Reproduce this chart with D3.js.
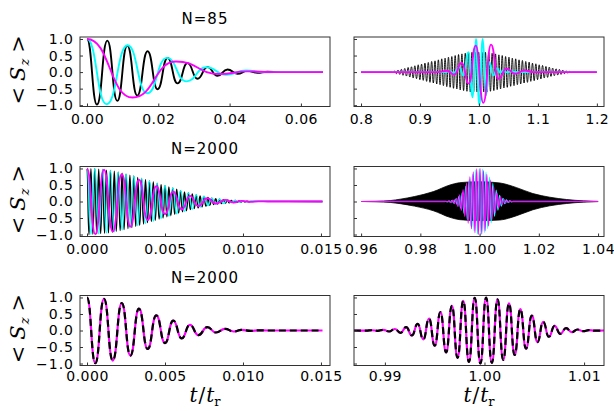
<!DOCTYPE html>
<html><head><meta charset="utf-8">
<script src="https://cdn.jsdelivr.net/npm/d3@7"></script>
<style>body{margin:0;background:#fff}svg{display:block}</style>
</head><body>
<svg id="c" width="614" height="411"></svg>
<script>
// ================= DATA =================
const titles = ["N=85", "N=2000", "N=2000"];
const yTicks = [-1, -0.5, 0, 0.5, 1];
const yTickLabels = ["\u22121.0", "\u22120.5", "0.0", "0.5", "1.0"];
const xTicksEarlyN85 = [0, 0.02, 0.04, 0.06];
const xTickLabelsEarlyN85 = ["0.00", "0.02", "0.04", "0.06"];
const xTicksRevivalN85 = [0.8, 0.9, 1.0, 1.1, 1.2];
const xTickLabelsRevivalN85 = ["0.8", "0.9", "1.0", "1.1", "1.2"];
const xTicksEarlyN2000 = [0, 0.005, 0.01, 0.015];
const xTickLabelsEarlyN2000 = ["0.000", "0.005", "0.010", "0.015"];
const xTicksRevivalN2000 = [0.96, 0.98, 1.0, 1.02, 1.04];
const xTickLabelsRevivalN2000 = ["0.96", "0.98", "1.00", "1.02", "1.04"];
const xTicksZoomN2000 = [0.99, 1.0, 1.01];
const xTickLabelsZoomN2000 = ["0.99", "1.00", "1.01"];

// data ranges (t / t_r)
const n85EarlyRange = [0, 0.0662];
const n85RevivalRange = [0.8, 1.2];
const n2000EarlyRange = [0, 0.0151];
const n2000RevivalRange = [0.96, 1.04];
const n2000ZoomRange = [0.9869, 1.012];

// N=85, early times: extrema [t, <Sz>]
const n85BlackEarly = [[0,1],[0.0028,-0.98],[0.0057,0.95],[0.0085,-0.87],[0.0113,0.80],[0.0141,-0.71],[0.0170,0.63],[0.0198,-0.52],[0.0226,0.43],[0.0254,-0.34],[0.0282,0.27],[0.0310,-0.20],[0.0338,0.15],[0.0366,-0.11],[0.0394,0.08],[0.0422,-0.05],[0.0450,0.035],[0.0478,-0.02],[0.0506,0.012],[0.054,0],[0.0662,0]];
const n85CyanEarly = [[0,1],[0.0055,-0.97],[0.0114,0.81],[0.0169,-0.64],[0.0224,0.43],[0.0279,-0.28],[0.0335,0.15],[0.0390,-0.08],[0.0446,0.05],[0.0500,-0.01],[0.0550,0.005],[0.0662,0]];
const n85MagentaEarly = [[0,1],[0.0128,-0.77],[0.0250,0.32],[0.0372,-0.06],[0.0450,0.02],[0.052,0],[0.0662,0]];

// N=85, revival: black is a fast oscillation, extrema every step from start
const n85BlackRevivalStart = 0.84, n85BlackRevivalStep = 0.00285;
const n85BlackRevival = [0,0,0,0,0.006,-0.02,0.03,-0.05,0.06,-0.07,0.085,-0.10,0.11,-0.12,0.14,-0.15,0.16,-0.18,0.19,-0.20,0.22,-0.23,0.24,-0.25,0.27,-0.28,0.29,-0.31,0.32,-0.33,0.34,-0.36,0.37,-0.38,0.40,-0.41,0.42,-0.44,0.45,-0.46,0.47,-0.49,0.50,-0.51,0.53,-0.54,0.55,-0.56,0.57,-0.58,0.59,-0.60,0.60,-0.60,0.60,-0.60,0.60,-0.60,0.60,-0.60,0.60,-0.60,0.59,-0.58,0.57,-0.56,0.55,-0.53,0.52,-0.51,0.50,-0.48,0.47,-0.46,0.45,-0.43,0.42,-0.41,0.40,-0.38,0.37,-0.36,0.35,-0.33,0.32,-0.31,0.30,-0.28,0.27,-0.26,0.25,-0.23,0.22,-0.21,0.20,-0.18,0.17,-0.16,0.15,-0.13,0.12,-0.11,0.10,-0.09,0.08,-0.07,0.06,-0.05,0.04,-0.03,0.02,-0.01,0];
const n85CyanRevival = [[0.94,0],[0.951,0.02],[0.957,-0.03],[0.9667,0.15],[0.9736,-0.10],[0.982,0.60],[0.9894,-0.76],[0.995,1.0],[1.0007,-1.0],[1.0064,1.0],[1.012,-0.70],[1.0177,0.30],[1.0244,-0.10],[1.0312,0.12],[1.036,-0.02],[1.041,0.05],[1.047,-0.01],[1.055,0.02],[1.065,0]];
const n85MagentaRevival = [[0.93,0],[0.946,0.04],[0.958,-0.08],[0.9708,0.28],[0.9827,-0.35],[0.9945,0.80],[1.0075,-0.93],[1.0205,0.83],[1.0329,-0.20],[1.047,0.10],[1.061,-0.05],[1.078,0.05],[1.092,0]];

// N=2000, early times
const n2000BlackEarlyStart = 0, n2000BlackEarlyStep = 0.000125;
const n2000BlackEarly = [1.0,-1.0,0.99,-0.99,0.99,-0.98,0.98,-0.97,0.97,-0.96,0.95,-0.95,0.94,-0.93,0.92,-0.90,0.89,-0.88,0.86,-0.85,0.83,-0.82,0.80,-0.79,0.77,-0.75,0.73,-0.72,0.70,-0.68,0.66,-0.64,0.62,-0.60,0.59,-0.57,0.55,-0.53,0.51,-0.50,0.48,-0.46,0.44,-0.43,0.41,-0.39,0.37,-0.35,0.33,-0.31,0.29,-0.28,0.26,-0.24,0.23,-0.21,0.20,-0.19,0.17,-0.16,0.15,-0.14,0.12,-0.11,0.10,-0.09,0.085,-0.08,0.07,-0.06,0.055,-0.05,0.045,-0.04,0.035,-0.03,0.03,-0.025,0.02,-0.018,0.015,-0.012,0.01,-0.008,0.005];
const n2000CyanEarlyStart = 0, n2000CyanEarlyStep = 0.00025;
const n2000CyanEarly = [1.0,-0.99,0.99,-0.98,0.97,-0.95,0.94,-0.92,0.89,-0.86,0.83,-0.80,0.77,-0.73,0.70,-0.66,0.62,-0.59,0.55,-0.51,0.48,-0.44,0.41,-0.37,0.33,-0.30,0.26,-0.23,0.20,-0.17,0.15,-0.12,0.10,-0.085,0.07,-0.055,0.045,-0.035,0.03,-0.02,0.015,-0.01,0.008];
const n2000MagentaEarly = [[0,1],[0.00053,-0.99],[0.00109,0.96],[0.00165,-0.91],[0.00223,0.83],[0.00278,-0.76],[0.00333,0.66],[0.00389,-0.56],[0.00444,0.46],[0.0050,-0.38],[0.00553,0.30],[0.00607,-0.24],[0.0066,0.17],[0.00714,-0.14],[0.00771,0.10],[0.00827,-0.06],[0.00885,0.05],[0.0094,-0.03],[0.0099,0.02],[0.0105,-0.01],[0.0110,0.005],[0.0116,0],[0.0151,0]];

// N=2000, revival
const n2000BlackRevivalUpper = [[0.96,0],[0.965,0.008],[0.97,0.03],[0.9732,0.07],[0.978,0.15],[0.9844,0.30],[0.99,0.50],[0.9933,0.57],[1.0,0.60],[1.0069,0.56],[1.0125,0.42],[1.018,0.24],[1.0237,0.13],[1.0294,0.06],[1.035,0.02],[1.04,0.003]];
const n2000BlackRevivalLower = [[0.96,0],[0.965,-0.008],[0.97,-0.03],[0.9732,-0.065],[0.978,-0.14],[0.9844,-0.28],[0.99,-0.48],[0.9933,-0.55],[1.0,-0.58],[1.0069,-0.56],[1.0125,-0.43],[1.018,-0.25],[1.0237,-0.13],[1.0294,-0.06],[1.035,-0.02],[1.04,-0.003]];
const n2000CyanRevivalStart = 0.98842, n2000CyanRevivalStep = 0.000573;
const n2000CyanRevival = [0.005,-0.008,0.01,-0.02,0.03,-0.045,0.07,-0.10,0.15,-0.20,0.27,-0.36,0.46,-0.56,0.66,-0.75,0.83,-0.90,0.95,-0.99,1.0,-1.0,0.98,-0.94,0.89,-0.82,0.74,-0.65,0.55,-0.45,0.35,-0.26,0.19,-0.14,0.10,-0.07,0.05,-0.03,0.02,-0.01,0.005];
const n2000MagentaRevival = [[0.98813,-0.005],[0.98870,0.008],[0.98928,-0.01],[0.98985,0.02],[0.99042,-0.03],[0.99100,0.045],[0.99157,-0.07],[0.99214,0.10],[0.99271,-0.15],[0.99329,0.20],[0.99386,-0.27],[0.99443,0.36],[0.99501,-0.46],[0.99558,0.56],[0.99615,-0.66],[0.99673,0.75],[0.99730,-0.83],[0.99787,0.90],[0.99844,-0.95],[0.99902,0.99],[0.99959,-1.0],[1.00016,1.0],[1.00074,-0.98],[1.00131,0.94],[1.00188,-0.89],[1.00246,0.82],[1.00303,-0.74],[1.00360,0.65],[1.00417,-0.55],[1.00475,0.45],[1.00532,-0.35],[1.00589,0.26],[1.00647,-0.19],[1.00704,0.14],[1.00761,-0.10],[1.00819,0.07],[1.00876,-0.05],[1.00933,0.03],[1.00991,-0.02],[1.01048,0.01],[1.01105,-0.005]];

// ================= DRAWING =================
const CYAN = "#00ffff", MAGENTA = "#ff00ff", BLACK = "#000000";
const regular = (start, step, vals) => vals.map((v, i) => [start + i * step, v]);
const padTo = (pts, range) => {
  const out = pts.slice();
  if (out[0][0] > range[0]) out.unshift([range[0], 0]);
  if (out[out.length - 1][0] < range[1]) out.push([range[1], 0]);
  return out;
};

const cols = [{x0: 80, x1: 330, cx: 205}, {x0: 354, x1: 604, cx: 479}];
const rows = [{y0: 37, y1: 106.5, yd: [-1.04, 1.06], pad: 8}, {y0: 166.5, y1: 236.5, yd: [-1.06, 1.06], pad: 8}, {y0: 295.5, y1: 365.5, yd: [-1.06, 1.06], pad: 6}];

const panels = [
  {r: 0, c: 0, xd: [-0.00196, 0.06816], ticks: xTicksEarlyN85, labels: xTickLabelsEarlyN85, range: n85EarlyRange,
   series: [{d: n85BlackEarly, col: BLACK, w: 1.9}, {d: n85CyanEarly, col: CYAN, w: 1.9}, {d: n85MagentaEarly, col: MAGENTA, w: 1.9}]},
  {r: 0, c: 1, xd: [0.7881, 1.2121], ticks: xTicksRevivalN85, labels: xTickLabelsRevivalN85, range: n85RevivalRange,
   series: [{d: regular(n85BlackRevivalStart, n85BlackRevivalStep, n85BlackRevival), col: BLACK, w: 0.9},
            {d: n85CyanRevival, col: CYAN, w: 1.9}, {d: n85MagentaRevival, col: MAGENTA, w: 1.9}]},
  {r: 1, c: 0, xd: [-0.00045, 0.01558], ticks: xTicksEarlyN2000, labels: xTickLabelsEarlyN2000, range: n2000EarlyRange,
   series: [{d: regular(n2000BlackEarlyStart, n2000BlackEarlyStep, n2000BlackEarly), col: BLACK, w: 1.4},
            {d: regular(n2000CyanEarlyStart, n2000CyanEarlyStep, n2000CyanEarly), col: CYAN, w: 1.4},
            {d: n2000MagentaEarly, col: MAGENTA, w: 1.9}]},
  {r: 1, c: 1, xd: [0.9576, 1.042], ticks: xTicksRevivalN2000, labels: xTickLabelsRevivalN2000, range: n2000RevivalRange,
   series: [{area: [n2000BlackRevivalUpper, n2000BlackRevivalLower], col: BLACK},
            {d: regular(n2000CyanRevivalStart, n2000CyanRevivalStep, n2000CyanRevival), col: CYAN, w: 1.1},
            {d: n2000MagentaRevival, col: MAGENTA, w: 1.1}]},
  {r: 2, c: 0, xd: [-0.00045, 0.01558], ticks: xTicksEarlyN2000, labels: xTickLabelsEarlyN2000, range: n2000EarlyRange,
   series: [{d: n2000MagentaEarly, col: MAGENTA, w: 2.2}, {d: n2000MagentaEarly, col: BLACK, w: 2.2, dash: "7,4"}]},
  {r: 2, c: 1, xd: [0.9869, 1.0120], ticks: xTicksZoomN2000, labels: xTickLabelsZoomN2000, range: n2000ZoomRange,
   series: [{d: n2000MagentaRevival, col: MAGENTA, w: 2.2}, {d: n2000MagentaRevival, col: BLACK, w: 2.2, dash: "7,4"}]}
];

const svg = d3.select("#c");
const FONT = "'DejaVu Sans', sans-serif";
const SERIF = "'DejaVu Serif', serif";

panels.forEach((p, i) => {
  const C = cols[p.c], R = rows[p.r];
  const x = d3.scaleLinear().domain(p.xd).range([C.x0, C.x1]);
  const y = d3.scaleLinear().domain(R.yd).range([R.y1, R.y0]);
  const g = svg.append("g");
  const clipId = "clip" + i;
  svg.append("clipPath").attr("id", clipId).append("rect")
    .attr("x", C.x0).attr("y", R.y0).attr("width", C.x1 - C.x0).attr("height", R.y1 - R.y0);
  const plot = g.append("g").attr("clip-path", `url(#${clipId})`);
  const line = d3.line().x(d => x(d[0])).y(d => y(d[1])).curve(d3.curveBumpX);
  p.series.forEach(s => {
    if (s.area) {
      const up = padTo(s.area[0], p.range), lo = padTo(s.area[1], p.range);
      const area = d3.area().x(d => x(d[0])).y0(d => y(d[1])).y1(d => y(d[2])).curve(d3.curveMonotoneX);
      plot.append("path").datum(up.map((d, k) => [d[0], d[1], lo[k][1]]))
        .attr("d", area).attr("fill", s.col).attr("stroke", s.col).attr("stroke-width", 0.8);
    } else {
      plot.append("path").datum(padTo(s.d, p.range)).attr("d", line)
        .attr("fill", "none").attr("stroke", s.col).attr("stroke-width", s.w)
        .attr("stroke-dasharray", s.dash || null).attr("stroke-linejoin", "round");
    }
  });
  // x axis
  const ax = g.append("g").attr("transform", `translate(0,${R.y1})`)
    .call(d3.axisBottom(x).tickValues(p.ticks).tickFormat((d, k) => p.labels[k]).tickSizeInner(-3).tickSizeOuter(0).tickPadding(R.pad));
  ax.select(".domain").remove();
  ax.selectAll("line").attr("stroke", "#333");
  ax.selectAll("text").attr("font-family", FONT).attr("font-size", 14).attr("letter-spacing", 0.5).attr("fill", "#000");
  // y axis
  const ay = g.append("g").attr("transform", `translate(${C.x0},0)`)
    .call(d3.axisLeft(y).tickValues(yTicks).tickFormat((d, k) => p.c === 0 ? yTickLabels[k] : "").tickSizeInner(-3).tickSizeOuter(0).tickPadding(6));
  ay.select(".domain").remove();
  ay.selectAll("line").attr("stroke", "#333");
  ay.selectAll("text").attr("font-family", FONT).attr("font-size", 14).attr("letter-spacing", 1).attr("fill", "#000");
  // frame
  g.append("rect").attr("x", C.x0).attr("y", R.y0).attr("width", C.x1 - C.x0).attr("height", R.y1 - R.y0)
    .attr("fill", "none").attr("stroke", "#333").attr("stroke-width", 1);
});

// titles and y labels
rows.forEach((R, r) => {
  svg.append("text").attr("x", cols[0].cx).attr("y", R.y0 - 13).attr("text-anchor", "middle")
    .attr("font-family", FONT).attr("font-size", 15).attr("letter-spacing", 1).text(titles[r]);
  const yl = svg.append("text").attr("transform", `translate(25,${(R.y0 + R.y1) / 2 - 2}) rotate(-90)`)
    .attr("text-anchor", "middle").attr("font-family", SERIF).attr("font-size", 21);
  yl.append("tspan").text("<");
  yl.append("tspan").attr("dx", 6).attr("font-style", "italic").text("S");
  yl.append("tspan").attr("font-style", "italic").attr("font-size", 13).attr("dy", 4).attr("dx", 1).text("z");
  yl.append("tspan").attr("dy", -4).attr("dx", 6).text(">");
});

// x labels
cols.forEach(C => {
  const t = svg.append("text").attr("x", C.cx).attr("y", 402).attr("text-anchor", "middle")
    .attr("font-family", SERIF).attr("font-size", 20);
  t.append("tspan").attr("font-style", "italic").text("t");
  t.append("tspan").attr("dx", 1).text("/");
  t.append("tspan").attr("dx", 1).attr("font-style", "italic").text("t");
  t.append("tspan").attr("font-size", 13).attr("dy", 4).text("r");
});
</script>
</body></html>
